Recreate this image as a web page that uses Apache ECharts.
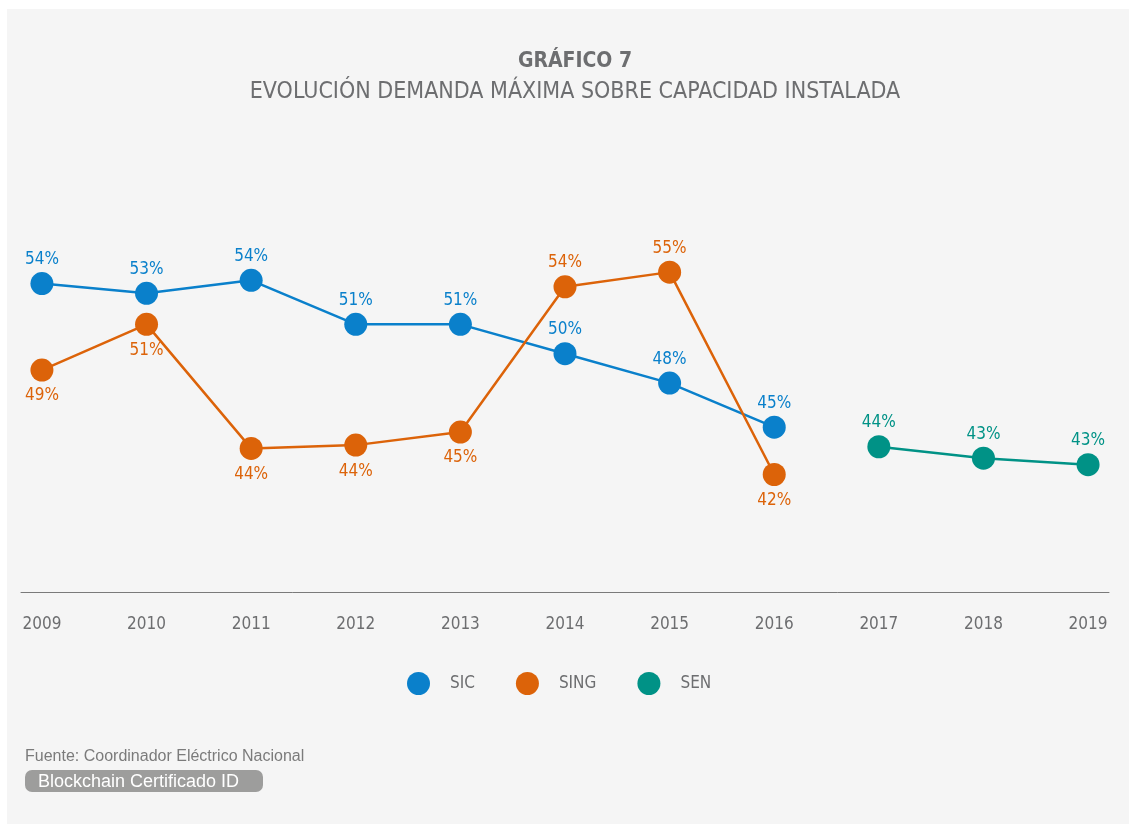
<!DOCTYPE html>
<html>
<head>
<meta charset="utf-8">
<title>Gráfico 7</title>
<script src="https://cdn.jsdelivr.net/npm/echarts@6/dist/echarts.min.js"></script>
</head>
<body style="margin:0;padding:0;background:#fff;">
<div id="main" style="width:1129px;height:824px;"></div>
<script type="text/javascript">
// años del eje x
var years = [2009, 2010, 2011, 2012, 2013, 2014, 2015, 2016, 2017, 2018, 2019];
// demanda máxima / capacidad instalada (%)
var sic = [53.9, 53.3, 54.1, 51.4, 51.4, 49.6, 47.8, 45.1];
var sing = [48.6, 51.4, 43.8, 44.0, 44.8, 53.7, 54.6, 42.2];
var sen = [43.9, 43.2, 42.8]; // desde 2017
var senYears = [2017, 2018, 2019];

var COND = "'DejaVu Sans Condensed', 'Liberation Sans Narrow', sans-serif";
var GREY = '#6d6e70';
var colors = { SIC: '#0a80cb', SING: '#dc6309', SEN: '#009286' };

function pct(p) { return Math.round(p.value[1]) + '%'; }

function mkLine(name, xs, vals, labelFn) {
    return {
        name: name,
        type: 'line',
        symbol: 'circle',
        symbolSize: 23,
        color: colors[name],
        lineStyle: { width: 2.5, color: colors[name] },
        itemStyle: { color: colors[name] },
        label: {
            show: true, position: 'top', distance: 4,
            formatter: pct, color: colors[name],
            fontFamily: COND, fontSize: 17
        },
        emphasis: { disabled: true },
        data: vals.map(function (v, i) {
            var d = { value: [xs[i], v] };
            if (labelFn) d.label = labelFn(v, i);
            return d;
        })
    };
}

var myChart = echarts.init(document.getElementById('main'));
var option = {
    backgroundColor: '#ffffff',
    animation: false,
    title: [{
        text: 'GRÁFICO 7', left: 570, top: 46, textAlign: 'center',
        textStyle: { fontFamily: COND, fontSize: 21, fontWeight: 'bold', color: GREY }
    }, {
        text: 'EVOLUCIÓN DEMANDA MÁXIMA SOBRE CAPACIDAD INSTALADA', left: 570, top: 76, textAlign: 'center',
        textStyle: { fontFamily: COND, fontSize: 23, fontWeight: 'normal', color: GREY }
    }],
    legend: {
        data: ['SIC', 'SING', 'SEN'],
        left: 402, top: 667,
        icon: 'circle',
        itemWidth: 23, itemHeight: 23, itemGap: 41,
        textStyle: { fontFamily: COND, fontSize: 17, color: GREY, padding: [0, 0, 0, 15] }
    },
    grid: { left: 21, right: 20, top: 184, bottom: 232 },
    xAxis: {
        type: 'value', min: 2008.8, max: 2019.2,
        axisLine: { show: true, lineStyle: { color: '#7a7a7a', width: 1 } },
        axisTick: { show: false },
        splitLine: { show: false },
        axisLabel: {
            customValues: years, margin: 24,
            formatter: function (v) { return String(v); },
            fontFamily: COND, fontSize: 17, color: GREY
        }
    },
    yAxis: { type: 'value', min: 35, max: 60, show: false, splitLine: { show: false } },
    graphic: [{
        type: 'rect', z: -10, silent: true,
        shape: { x: 7, y: 9, width: 1122, height: 815 },
        style: { fill: '#f5f5f5' }
    }, {
        type: 'text', left: 25, top: 749,
        style: { text: 'Fuente: Coordinador Eléctrico Nacional', font: "16px 'Liberation Sans', sans-serif", fill: '#7b7b7b' }
    }, {
        type: 'group', left: 25, top: 770,
        children: [{
            type: 'rect', shape: { x: 0, y: 0, width: 238, height: 22, r: 7 },
            style: { fill: '#9d9d9c' }
        }, {
            type: 'text', x: 13, y: 12,
            style: { text: 'Blockchain Certificado ID', font: "18px 'Liberation Sans', sans-serif", fill: '#ffffff', textVerticalAlign: 'middle' }
        }]
    }],
    series: [
        mkLine('SIC', years, sic),
        mkLine('SING', years, sing, function (v, i) {
            // etiqueta arriba cuando SING supera a SIC
            return v > sic[i] ? { position: 'top', distance: 4 } : { position: 'bottom', distance: 6 };
        }),
        mkLine('SEN', senYears, sen)
    ]
};
myChart.setOption(option);
</script>
</body>
</html>
